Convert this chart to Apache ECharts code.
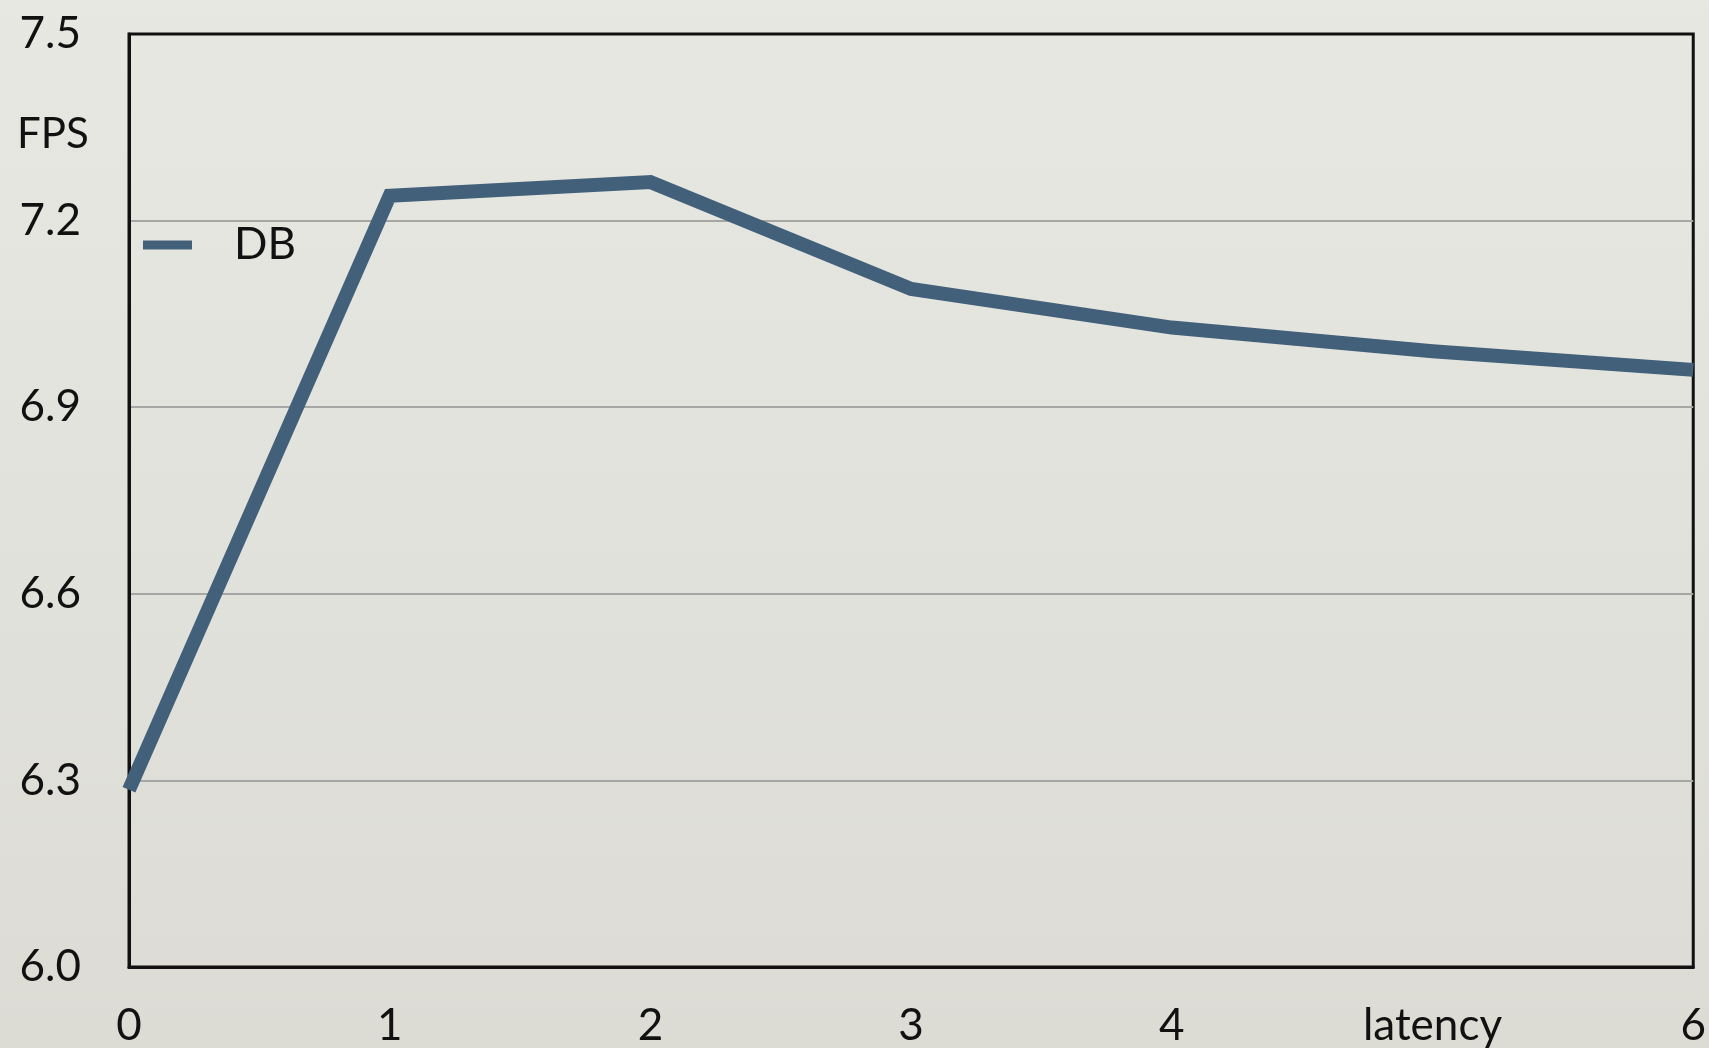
<!DOCTYPE html>
<html>
<head>
<meta charset="utf-8">
<script src="https://cdn.jsdelivr.net/npm/echarts@6/dist/echarts.min.js"></script>
<style>
html,body{margin:0;padding:0;background:#e3e3dd;}
#chart{width:1709px;height:1048px;}
</style>
</head>
<body>
<div id="chart"></div>
<script>
var xLabels = ['0', '1', '2', '3', '4', 'latency', '6'];
var dbValues = [6.285, 7.24, 7.262, 7.09, 7.028, 6.99, 6.96];
var yMin = 6.0, yMax = 7.5, yStep = 0.3;

var chartObj = echarts.init(document.getElementById('chart'));
var font = 'Lato, "DejaVu Sans", sans-serif';
var option = {
	backgroundColor : {
		type: 'linear', x: 0, y: 0, x2: 0, y2: 1,
		colorStops: [{offset: 0, color: '#e8e8e3'}, {offset: 1, color: '#dcdcd5'}]
	},
	textStyle : {fontFamily: font},
	grid : {
		left: 129, right: 7, top: 34, bottom: 81,
		show: true, borderColor: '#111', borderWidth: 3
	},
	legend : {
		left: 138, top: 218,
		icon: 'rect', itemWidth: 49, itemHeight: 9,
		textStyle: {fontSize: 44, color: '#111', padding: [0, 0, 0, 37], fontFamily: font},
		data: ['DB']
	},
	graphic : [{
		type: 'text', left: 17, top: 113,
		style: {text: 'FPS', fontSize: 42, fill: '#111', fontFamily: font}
	}],
	xAxis : {
		type: 'category',
		boundaryGap: false,
		data: xLabels,
		axisLine: {show: true, lineStyle: {color: '#111', width: 3}},
		axisTick: {show: false},
		axisLabel: {fontSize: 44, color: '#111', margin: 37, fontFamily: font}
	},
	yAxis : {
		type: 'value',
		min: yMin, max: yMax, interval: yStep,
		axisLine: {show: true, lineStyle: {color: '#111', width: 3}},
		axisTick: {show: false},
		axisLabel: {
			fontSize: 44, color: '#111', margin: 48, fontFamily: font,
			formatter: function(v){ return v.toFixed(1); }
		},
		splitLine: {
			show: true, showMinLine: false, showMaxLine: false,
			lineStyle: {color: '#a6a6a4', width: 2}
		}
	},
	series : [{
		name: 'DB',
		type: 'line',
		data: dbValues,
		showSymbol: false,
		clip: false,
		color: '#42607a',
		lineStyle: {width: 14, color: '#42607a', join: 'miter', cap: 'butt'}
	}]
};
chartObj.setOption(option);
</script>
</body>
</html>
